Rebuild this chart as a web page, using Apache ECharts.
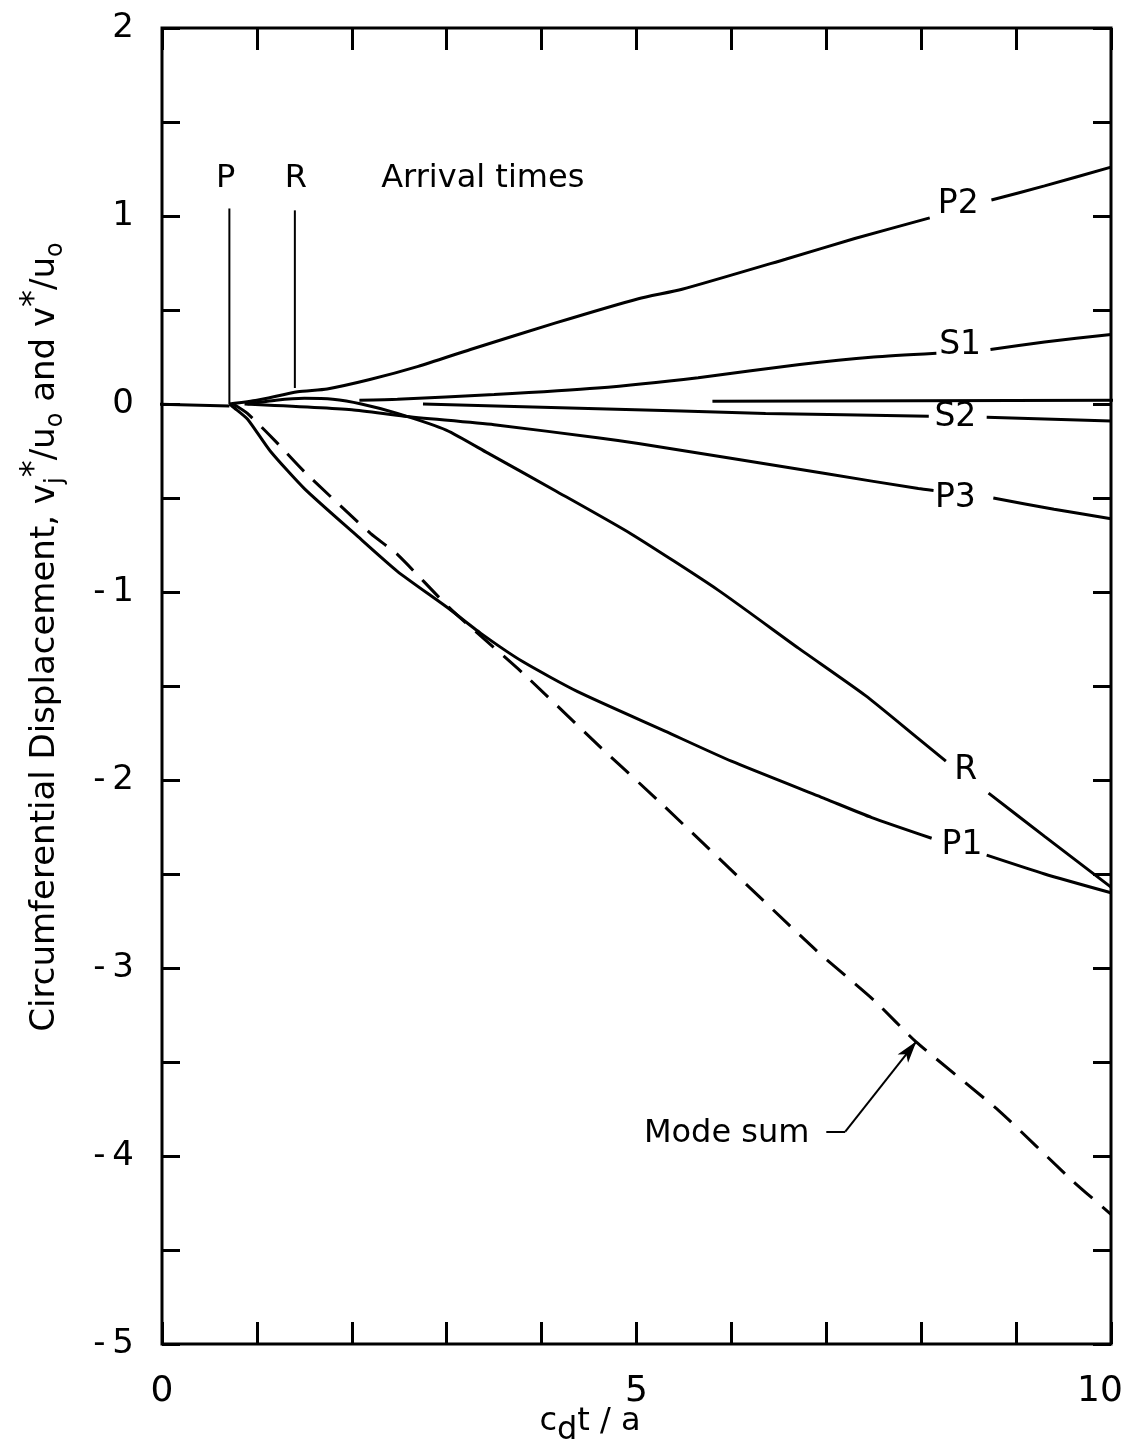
<!DOCTYPE html>
<html>
<head>
<meta charset="utf-8">
<script src="https://cdn.jsdelivr.net/npm/echarts@6/dist/echarts.min.js"></script>
<style>
html,body{margin:0;padding:0;background:#fff;overflow:hidden;}
#c{width:1125px;height:1449px;}
</style>
</head>
<body>
<div id="c"></div>
<script>
// ---- data (x = c_d t / a, y = displacement) ----
var GAP = '-';
var baseline = [[-0.12, 0], [0.71, -0.01]];
var arrivalP = [[0.71, 0], [0.71, 1.04]];
var arrivalR = [[1.40, 0.085], [1.40, 1.03]];
var P2 = [[0.71,0],[1.0,0.02],[1.43,0.065],[1.74,0.08],[2.19,0.13],[2.7,0.2],[3.25,0.29],[4.14,0.43],[5.02,0.56],[5.48,0.61],[6.57,0.77],[7.3,0.88],[8.09,0.99],[8.4,GAP],[8.74,1.085],[9.3,1.16],[10,1.26]];
var S1 = [[2.08,0.02],[2.48,0.025],[3.5,0.05],[4.59,0.085],[5.65,0.14],[6.72,0.21],[7.5,0.25],[8.16,0.27],[8.4,GAP],[8.73,0.29],[9.3,0.33],[10,0.37]];
var S2 = [[2.75,0],[4.59,-0.025],[6.36,-0.05],[8.08,-0.065],[8.4,GAP],[8.69,-0.07],[10,-0.09]];
var P3 = [[0.87,0],[2.0,-0.03],[2.55,-0.065],[3.5,-0.11],[4.59,-0.18],[5.02,-0.21],[6.01,-0.29],[6.99,-0.37],[7.97,-0.45],[8.13,-0.46],[8.4,GAP],[8.76,-0.5],[9.4,-0.56],[10,-0.61]];
var R = [[0.9,0],[1.2,0.02],[1.5,0.03],[1.8,0.025],[2.1,0.0],[2.48,-0.05],[3.0,-0.14],[3.43,-0.26],[4.14,-0.46],[4.94,-0.69],[5.86,-0.99],[6.71,-1.30],[7.41,-1.55],[7.97,-1.78],[8.26,-1.9],[8.5,GAP],[8.71,-2.07],[9.3,-2.3],[10,-2.57]];
var P1 = [[0.71,0],[0.76,-0.02],[0.9,-0.08],[1.14,-0.25],[1.5,-0.45],[2.03,-0.69],[2.48,-0.89],[3.0,-1.08],[3.36,-1.22],[3.8,-1.37],[4.38,-1.53],[5.3,-1.74],[6.0,-1.90],[6.99,-2.10],[7.48,-2.2],[8.11,-2.31],[8.4,GAP],[8.69,-2.40],[9.3,-2.5],[10,-2.6]];
var modeSum = [[0.75,0],[0.9,-0.05],[1.2,-0.2],[1.5,-0.36],[2.2,-0.69],[2.48,-0.80],[3.04,-1.09],[3.82,-1.44],[4.63,-1.83],[5.23,-2.11],[6.88,-2.9],[7.52,-3.18],[7.94,-3.39],[8.82,-3.76],[9.59,-4.13],[10,-4.31]];
var zeroRef = [[5.8,0.015],[10.15,0.02]];
var xTickLabels = [0, 5, 10];
var yTickLabels = [2, 1, 0, -1, -2, -3, -4, -5];

var FONT = 'DejaVu Sans';
var chart = echarts.init(document.getElementById('c'), null, {renderer: 'canvas', width: 1125, height: 1449});

function lbl(text, x, y, size) {
  return {coord: [x, y], value: text, symbol: 'circle', symbolSize: 0,
    label: {show: true, position: 'inside', formatter: text, color: '#000',
      fontSize: size || 33, fontFamily: FONT}};
}
function curve(name, data, opts) {
  var s = {
    name: name, type: 'line', data: data, showSymbol: false, symbol: 'none',
    connectNulls: false, smooth: 0.2, silent: true,
    lineStyle: {color: '#000', width: 3}, z: 3, animation: false
  };
  for (var k in (opts || {})) s[k] = opts[k];
  return s;
}
function xAx(pos, showLabel) {
  return {
    type: 'value', min: 0, max: 10, interval: 1, position: pos,
    axisLine: {show: false, onZero: false},
    axisTick: {show: true, inside: true, length: 22, lineStyle: {color: '#000', width: 3}},
    splitLine: {show: false},
    axisLabel: {show: showLabel, margin: 30, color: '#000', fontSize: 36, fontFamily: FONT,
      rich: {last: {fontSize: 36, fontFamily: FONT, color: '#000', padding: [0, 22, 0, 0]}},
      formatter: function (v) {
        if (xTickLabels.indexOf(v) < 0) return '';
        return v === 10 ? '{last|' + v + '}' : String(v);
      }}
  };
}
function yAx(pos, showLabel) {
  return {
    type: 'value', min: -5, max: 2, interval: 0.5, position: pos,
    axisLine: {show: false, onZero: false},
    axisTick: {show: true, inside: true, length: 18, lineStyle: {color: '#000', width: 3}},
    splitLine: {show: false},
    axisLabel: {show: showLabel, margin: 28, color: '#000', fontSize: 34, fontFamily: FONT,
      formatter: function (v) {
        if (yTickLabels.indexOf(v) < 0) return '';
        return v < 0 ? '-\u2009' + (-v) : String(v);
      }}
  };
}

var option = {
  animation: false,
  backgroundColor: '#fff',
  grid: {left: 162, right: 14, top: 28, bottom: 105, show: true, containLabel: false,
    outerBoundsMode: 'none',
    borderColor: '#000', borderWidth: 3, backgroundColor: 'transparent'},
  xAxis: [xAx('bottom', true), xAx('top', false)],
  yAxis: [yAx('left', true), yAx('right', false)],
  series: [
    curve('baseline', baseline, {clip: false, smooth: false}),
    curve('arrivalP', arrivalP, {smooth: false, lineStyle: {color: '#000', width: 2}}),
    curve('arrivalR', arrivalR, {smooth: false, lineStyle: {color: '#000', width: 2}}),
    curve('P2', P2, {markPoint: {silent: true, data: [lbl('P2', 8.39, 1.06)]}}),
    curve('S1', S1, {markPoint: {silent: true, data: [lbl('S1', 8.41, 0.31)]}}),
    curve('S2', S2, {markPoint: {silent: true, data: [lbl('S2', 8.36, -0.07)]}}),
    curve('P3', P3, {markPoint: {silent: true, data: [lbl('P3', 8.36, -0.5)]}}),
    curve('R', R, {markPoint: {silent: true, data: [lbl('R', 8.47, -1.95)]}}),
    curve('P1', P1, {markPoint: {silent: true, data: [lbl('P1', 8.43, -2.35)]}}),
    curve('zero', zeroRef, {clip: false, smooth: false}),
    curve('Mode sum', modeSum, {
      lineStyle: {color: '#000', width: 3, type: [24, 13]},
      markPoint: {silent: true, data: [
        lbl('Mode sum', 5.95, -3.88, 32),
        lbl('P', 0.67, 1.20, 32),
        lbl('R', 1.41, 1.20, 32),
        lbl('Arrival times', 3.38, 1.20, 32)
      ]},
      markLine: {silent: true, animation: false, symbol: ['none', 'none'],
        lineStyle: {color: '#000', width: 2, type: 'solid'},
        label: {show: false},
        data: [
          [{coord: [7.0, -3.87], symbol: 'none'}, {coord: [7.2, -3.87], symbol: 'none'}],
          [{coord: [7.2, -3.87], symbol: 'none'}, {coord: [7.95, -3.39], symbol: 'arrow', symbolSize: [10, 22]}]
        ]}
    })
  ],
  graphic: [
    {type: 'text', x: 45, y: 637, rotation: Math.PI / 2, silent: true,
      style: {
        text: 'Circumferential Displacement, v{sub|j}{sup|*}/u{sub|o} and v{sup|*}/u{sub|o}',
        fill: '#000', font: '34px "DejaVu Sans"', align: 'center', verticalAlign: 'middle',
        lineHeight: 54,
        rich: {
          sub: {fontSize: 24, fontFamily: FONT, verticalAlign: 'bottom', lineHeight: 54, fill: '#000', padding: [0,0,4,0]},
          sup: {fontSize: 34, fontFamily: FONT, verticalAlign: 'top', lineHeight: 54, fill: '#000'}
        }
      }},
    {type: 'text', x: 590, y: 1422, silent: true,
      style: {
        text: 'c{sub|d}t / a', fill: '#000', font: '32px "DejaVu Sans"',
        align: 'center', verticalAlign: 'middle', lineHeight: 50,
        rich: {sub: {fontSize: 32, fontFamily: FONT, verticalAlign: 'bottom', lineHeight: 50, fill: '#000'}}
      }}
  ]
};
chart.setOption(option);
</script>
</body>
</html>
